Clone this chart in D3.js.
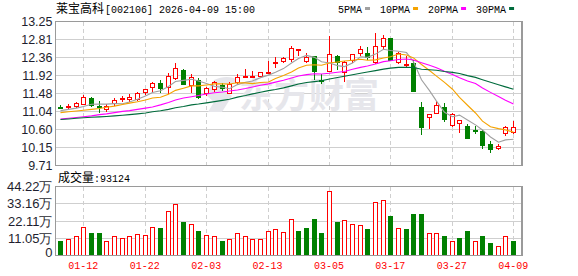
<!DOCTYPE html>
<html>
<head>
<meta charset="utf-8">
<script src="https://cdn.jsdelivr.net/npm/d3@7"></script>
<style>
  body { margin: 0; background: #fff; }
  svg { display: block; }
</style>
</head>
<body>
<svg id="chart" width="578" height="276"></svg>
<script>
// trading days shown (MM-DD)
const dates = [
  "01-07", "01-08", "01-09", "01-12", "01-13", "01-14", "01-15", "01-16", "01-19", "01-20",
  "01-21", "01-22", "01-23", "01-26", "01-27", "01-28", "01-29", "01-30", "02-02", "02-03",
  "02-04", "02-05", "02-06", "02-09", "02-10", "02-11", "02-12", "02-13", "02-24", "02-25",
  "02-26", "02-27", "03-02", "03-03", "03-04", "03-05", "03-06", "03-09", "03-10", "03-11",
  "03-12", "03-13", "03-16", "03-17", "03-18", "03-19", "03-20", "03-23", "03-24", "03-25",
  "03-26", "03-27", "03-30", "03-31", "04-01", "04-02", "04-03", "04-07", "04-08", "04-09"
];

const openPrices = [
  11.16, 11.13, 11.17, 11.22, 11.37, 11.18, 11.09, 11.23, 11.33, 11.33,
  11.34, 11.50, 11.62, 11.73, 11.62, 11.85, 12.06, 11.68, 11.82, 11.47,
  11.57, 11.70, 11.47, 11.76, 11.88, 11.89, 11.90, 11.99, 12.22, 12.27,
  12.31, 12.53, 12.27, 12.39, 11.80, 12.03, 12.39, 12.00, 12.29, 12.46,
  12.48, 12.25, 12.64, 12.84, 12.25, 12.17, 12.23, 11.14, 10.90, 10.99,
  11.16, 10.69, 10.74, 10.69, 10.59, 10.55, 10.23, 10.14, 10.49, 10.53
];
const highPrices = [
  11.20, 11.21, 11.27, 11.44, 11.39, 11.29, 11.21, 11.36, 11.41, 11.47,
  11.52, 11.59, 11.77, 11.80, 11.98, 12.23, 12.09, 11.96, 11.85, 11.64,
  11.78, 11.73, 11.76, 11.96, 12.09, 12.04, 11.99, 12.29, 12.37, 12.37,
  12.66, 12.56, 12.48, 12.41, 11.96, 12.90, 12.43, 12.27, 12.46, 12.64,
  12.62, 12.97, 12.91, 12.85, 12.50, 12.41, 12.30, 11.27, 10.97, 11.30,
  11.24, 11.00, 10.84, 10.74, 10.67, 10.59, 10.31, 10.25, 10.67, 10.80
];
const lowPrices = [
  11.09, 11.09, 11.13, 11.21, 11.14, 10.99, 11.02, 11.17, 11.28, 11.27,
  11.29, 11.44, 11.51, 11.49, 11.47, 11.82, 11.68, 11.49, 11.35, 11.41,
  11.51, 11.54, 11.46, 11.72, 11.87, 11.87, 11.88, 11.98, 12.10, 12.22,
  12.25, 12.41, 12.23, 11.80, 11.71, 12.00, 12.06, 11.76, 12.23, 12.41,
  12.31, 12.21, 12.56, 12.27, 12.21, 12.12, 11.51, 10.47, 10.61, 10.99,
  10.79, 10.65, 10.50, 10.37, 10.49, 10.12, 10.01, 10.08, 10.43, 10.49
];
const closePrices = [
  11.13, 11.17, 11.23, 11.38, 11.17, 11.14, 11.17, 11.30, 11.36, 11.38,
  11.48, 11.57, 11.73, 11.58, 11.91, 12.09, 11.70, 11.87, 11.37, 11.60,
  11.74, 11.58, 11.69, 11.88, 11.89, 11.90, 11.99, 12.00, 12.24, 12.33,
  12.59, 12.55, 12.37, 12.00, 11.79, 12.43, 12.24, 12.25, 12.43, 12.56,
  12.36, 12.64, 12.84, 12.29, 12.47, 12.19, 11.51, 10.63, 10.96, 11.18,
  10.82, 10.96, 10.82, 10.37, 10.57, 10.20, 10.10, 10.18, 10.65, 10.64
];

// volume, 万手
const volumes = [
  9.2, 10.0, 12.2, 17.8, 14.7, 14.7, 9.0, 12.0, 10.7, 12.0,
  13.5, 12.8, 17.8, 17.9, 28.0, 32.7, 21.2, 19.9, 15.6, 12.8,
  12.2, 9.2, 10.3, 14.1, 12.2, 10.3, 10.3, 15.4, 16.7, 14.7,
  22.9, 15.4, 17.9, 23.3, 14.3, 41.0, 21.2, 22.4, 19.9, 19.2,
  16.7, 33.8, 35.3, 25.6, 17.1, 16.7, 26.9, 26.9, 14.1, 14.1,
  12.2, 9.0, 11.5, 16.0, 9.0, 12.2, 7.7, 5.6, 12.2, 9.31
];

// moving averages as drawn
const ma5 = [
  11.06, 11.09, 11.12, 11.16, 11.216, 11.218, 11.218, 11.232, 11.228, 11.27,
  11.338, 11.418, 11.504, 11.548, 11.654, 11.776, 11.802, 11.83, 11.788, 11.726,
  11.656, 11.632, 11.596, 11.698, 11.756, 11.788, 11.87, 11.932, 12.004, 12.092,
  12.23, 12.342, 12.416, 12.368, 12.26, 12.228, 12.166, 12.142, 12.228, 12.382,
  12.368, 12.448, 12.566, 12.538, 12.52, 12.486, 12.26, 11.818, 11.552, 11.294,
  11.02, 10.91, 10.948, 10.83, 10.708, 10.584, 10.412, 10.284, 10.34, 10.354
];
const ma10 = [
  11.01, 11.03, 11.05, 11.07, 11.09, 11.11, 11.14, 11.17, 11.21, 11.243,
  11.278, 11.318, 11.368, 11.388, 11.462, 11.557, 11.61, 11.667, 11.668, 11.69,
  11.716, 11.717, 11.713, 11.743, 11.741, 11.722, 11.751, 11.764, 11.851, 11.924,
  12.009, 12.106, 12.174, 12.186, 12.176, 12.229, 12.254, 12.279, 12.298, 12.321,
  12.298, 12.307, 12.354, 12.383, 12.451, 12.427, 12.354, 12.192, 12.045, 11.907,
  11.753, 11.585, 11.383, 11.191, 11.001, 10.802, 10.661, 10.616, 10.585, 10.531
];
const ma20 = [
  10.85, 10.87, 10.89, 10.91, 10.93, 10.96, 10.98, 11.01, 11.04, 11.06,
  11.09, 11.12, 11.15, 11.20, 11.26, 11.32, 11.37, 11.40, 11.43, 11.467,
  11.497, 11.518, 11.541, 11.566, 11.602, 11.640, 11.681, 11.716, 11.760, 11.807,
  11.863, 11.912, 11.944, 11.965, 11.959, 11.976, 12.003, 12.022, 12.075, 12.123,
  12.154, 12.207, 12.264, 12.285, 12.314, 12.328, 12.304, 12.236, 12.172, 12.114,
  12.026, 11.946, 11.869, 11.787, 11.726, 11.615, 11.508, 11.404, 11.315, 11.219
];
const ma30 = [
  10.84, 10.855, 10.87, 10.885, 10.895, 10.905, 10.915, 10.93, 10.945, 10.96,
  10.98, 11.00, 11.03, 11.055, 11.09, 11.13, 11.16, 11.20, 11.22, 11.25,
  11.28, 11.31, 11.34, 11.39, 11.43, 11.47, 11.51, 11.55, 11.58, 11.619,
  11.668, 11.714, 11.752, 11.772, 11.793, 11.836, 11.872, 11.903, 11.939, 11.978,
  12.008, 12.043, 12.080, 12.104, 12.123, 12.126, 12.120, 12.078, 12.065, 12.051,
  12.02, 11.999, 11.970, 11.92, 11.876, 11.819, 11.756, 11.696, 11.643, 11.586
];

const priceTicks = [9.71, 10.15, 10.60, 11.04, 11.48, 11.92, 12.36, 12.81, 13.25];
const volumeTicks = [0, 11.05, 22.11, 33.16, 44.22];
const dateTicks = ["01-12", "01-22", "02-03", "02-13", "03-05", "03-17", "03-27", "04-09"];
const maNames = ["5PMA", "10PMA", "20PMA", "30PMA"];

const stockName = "莱宝高科";
const titleRest = "[002106] 2026-04-09 15:00";
const lastVolume = "93124";

const UP = "#ff0000";
const DOWN = "#008000";
const maColors = ["#a0a0a0", "#f5a300", "#ff00ff", "#006b3c"];
const MONO = "'Liberation Mono', 'DejaVu Sans Mono', monospace";
const CJK = "'Noto Sans CJK SC', sans-serif";
const SANS = "'Liberation Sans', Arial, sans-serif";

const bars = dates.map((d, i) => ({
  date: d,
  o: openPrices[i], h: highPrices[i], l: lowPrices[i], c: closePrices[i],
  v: volumes[i],
  volUp: i === 0 ? closePrices[i] >= openPrices[i] : closePrices[i] >= closePrices[i - 1]
}));

const svg = d3.select("#chart");
const left = 55.5, right = 522;
const priceTop = 21.5, priceBottom = 165.5;
const volTop = 186.5, volBottom = 255.5;

const x = d3.scaleBand().domain(dates).range([56.5, 517]);
const cx = (d) => Math.round(x(d) + x.bandwidth() / 2) + 0.5;
const yP = d3.scaleLinear().domain([9.71, 13.25]).range([priceBottom, priceTop]);
const yV = d3.scaleLinear().domain([0, 44.22]).range([volBottom, volTop]);
const snap = (v) => Math.round(v - 0.5) + 0.5;

// ---- grid
const grid = svg.append("g").attr("shape-rendering", "crispEdges");
grid.selectAll("line.hp")
  .data(priceTicks.slice(1, -1))
  .join("line")
  .attr("x1", left).attr("x2", right)
  .attr("y1", (d) => snap(yP(d))).attr("y2", (d) => snap(yP(d)))
  .attr("stroke", "#cfcfcf");
grid.selectAll("line.hv")
  .data(volumeTicks.slice(1, -1))
  .join("line")
  .attr("x1", left).attr("x2", right)
  .attr("y1", (d) => snap(yV(d))).attr("y2", (d) => snap(yV(d)))
  .attr("stroke", "#cfcfcf");
[[priceTop, priceBottom], [volTop, volBottom]].forEach(([t, b]) => {
  grid.append("g").selectAll("line")
    .data(dateTicks)
    .join("line")
    .attr("x1", cx).attr("x2", cx)
    .attr("y1", t).attr("y2", b)
    .attr("stroke", "#cfcfcf")
    .attr("stroke-dasharray", "4,3");
});

// ---- watermark
const wm = svg.append("g").attr("fill", "#e6e6eb");
wm.append("path")
  .attr("d", "M214,80 C222,76 232,76 238,80 L230,86 C226,84 222,84 219,86 L232,96 L222,112 L208,112 L214,102 L205,94 Z");
wm.append("text")
  .attr("x", 239).attr("y", 108)
  .attr("font-family", CJK).attr("font-weight", "bold").attr("font-size", 35)
  .text("东方财富");

// ---- candles
const candles = svg.append("g").attr("shape-rendering", "crispEdges");
candles.selectAll("line")
  .data(bars)
  .join("line")
  .attr("x1", (d) => cx(d.date)).attr("x2", (d) => cx(d.date))
  .attr("y1", (d) => Math.round(yP(d.h))).attr("y2", (d) => Math.round(yP(d.l)))
  .attr("stroke", (d) => (d.c >= d.o ? UP : DOWN));
candles.selectAll("rect.up")
  .data(bars.filter((d) => d.c >= d.o))
  .join("rect")
  .attr("x", (d) => cx(d.date) - 2)
  .attr("width", 4)
  .attr("y", (d) => snap(yP(d.c)))
  .attr("height", (d) => Math.max(1, snap(yP(d.o)) - snap(yP(d.c))))
  .attr("fill", "#fff")
  .attr("stroke", UP);
candles.selectAll("rect.down")
  .data(bars.filter((d) => d.c < d.o))
  .join("rect")
  .attr("x", (d) => cx(d.date) - 2.5)
  .attr("width", 5)
  .attr("y", (d) => Math.round(yP(d.o)))
  .attr("height", (d) => Math.max(2, Math.round(yP(d.c)) - Math.round(yP(d.o))))
  .attr("fill", DOWN);

// ---- moving averages
const maLine = d3.line().x((d, i) => cx(dates[i])).y((d) => yP(d));
[ma5, ma10, ma20, ma30].forEach((series, k) => {
  svg.append("path")
    .datum(series)
    .attr("d", maLine)
    .attr("fill", "none")
    .attr("stroke", maColors[k])
    .attr("stroke-width", 1.1);
});

// ---- volume bars
const vol = svg.append("g").attr("shape-rendering", "crispEdges");
vol.selectAll("rect")
  .data(bars)
  .join("rect")
  .attr("x", (d) => (d.volUp ? cx(d.date) - 2 : cx(d.date) - 2.5))
  .attr("width", (d) => (d.volUp ? 4 : 5))
  .attr("y", (d) => (d.volUp ? snap(yV(d.v)) : Math.round(yV(d.v))))
  .attr("height", (d) => (d.volUp ? volBottom - snap(yV(d.v)) : volBottom - Math.round(yV(d.v))))
  .attr("fill", (d) => (d.volUp ? "#fff" : DOWN))
  .attr("stroke", (d) => (d.volUp ? UP : "none"));

// ---- frames
const frames = svg.append("g").attr("shape-rendering", "crispEdges")
  .attr("fill", "none").attr("stroke", "#9a9a9a").attr("stroke-width", 1.3);
frames.append("rect").attr("x", left).attr("y", priceTop)
  .attr("width", right - left).attr("height", priceBottom - priceTop);
frames.append("rect").attr("x", left).attr("y", volTop)
  .attr("width", right - left).attr("height", volBottom - volTop);

// ---- axes labels
const yAxisP = svg.append("g")
  .attr("transform", `translate(${left},0)`)
  .call(d3.axisLeft(yP).tickValues(priceTicks).tickFormat(d3.format(".2f")).tickSize(0).tickPadding(3));
yAxisP.select(".domain").remove();
yAxisP.selectAll("text")
  .attr("font-family", SANS).attr("font-size", 12.5).attr("fill", "#1e1e2e");

const yAxisV = svg.append("g")
  .attr("transform", `translate(${left},0)`)
  .call(d3.axisLeft(yV).tickValues(volumeTicks)
    .tickFormat((d) => (d === 0 ? "0" : d3.format(".2f")(d) + "万")).tickSize(0).tickPadding(3));
yAxisV.select(".domain").remove();
yAxisV.selectAll("text")
  .attr("font-family", SANS).attr("font-size", 13).attr("fill", "#1e1e2e");
yAxisV.selectAll(".tick").filter((d) => d === 0).select("text").attr("dy", "0.1em");

const xAxis = svg.append("g")
  .attr("transform", `translate(0,${volBottom})`)
  .call(d3.axisBottom(x).tickValues(dateTicks).tickSize(0).tickPadding(6));
xAxis.select(".domain").remove();
xAxis.selectAll("text")
  .attr("font-family", MONO).attr("font-size", 10).attr("fill", UP);

// ---- title
const title = svg.append("text").attr("x", 56).attr("y", 13).attr("fill", "#000");
title.append("tspan").attr("font-family", CJK).attr("font-size", 12).text(stockName);
title.append("tspan").attr("font-family", MONO).attr("font-size", 10).attr("dx", 1).text(titleRest);

const volTitle = svg.append("text").attr("x", 58).attr("y", 181.5).attr("fill", "#000");
volTitle.append("tspan").attr("font-family", CJK).attr("font-size", 12).text("成交量");
volTitle.append("tspan").attr("font-family", MONO).attr("font-size", 10).text(":" + lastVolume);

// ---- legend
let lx = 338;
maNames.forEach((name, k) => {
  const t = svg.append("text")
    .attr("x", lx).attr("y", 12.5)
    .attr("font-family", MONO).attr("font-size", 10).attr("fill", "#000")
    .text(name);
  const w = t.node().getComputedTextLength();
  svg.append("rect")
    .attr("x", lx + w + 3).attr("y", 7)
    .attr("width", 5).attr("height", 3)
    .attr("fill", maColors[k]);
  lx += w + 18;
});
</script>
</body>
</html>
